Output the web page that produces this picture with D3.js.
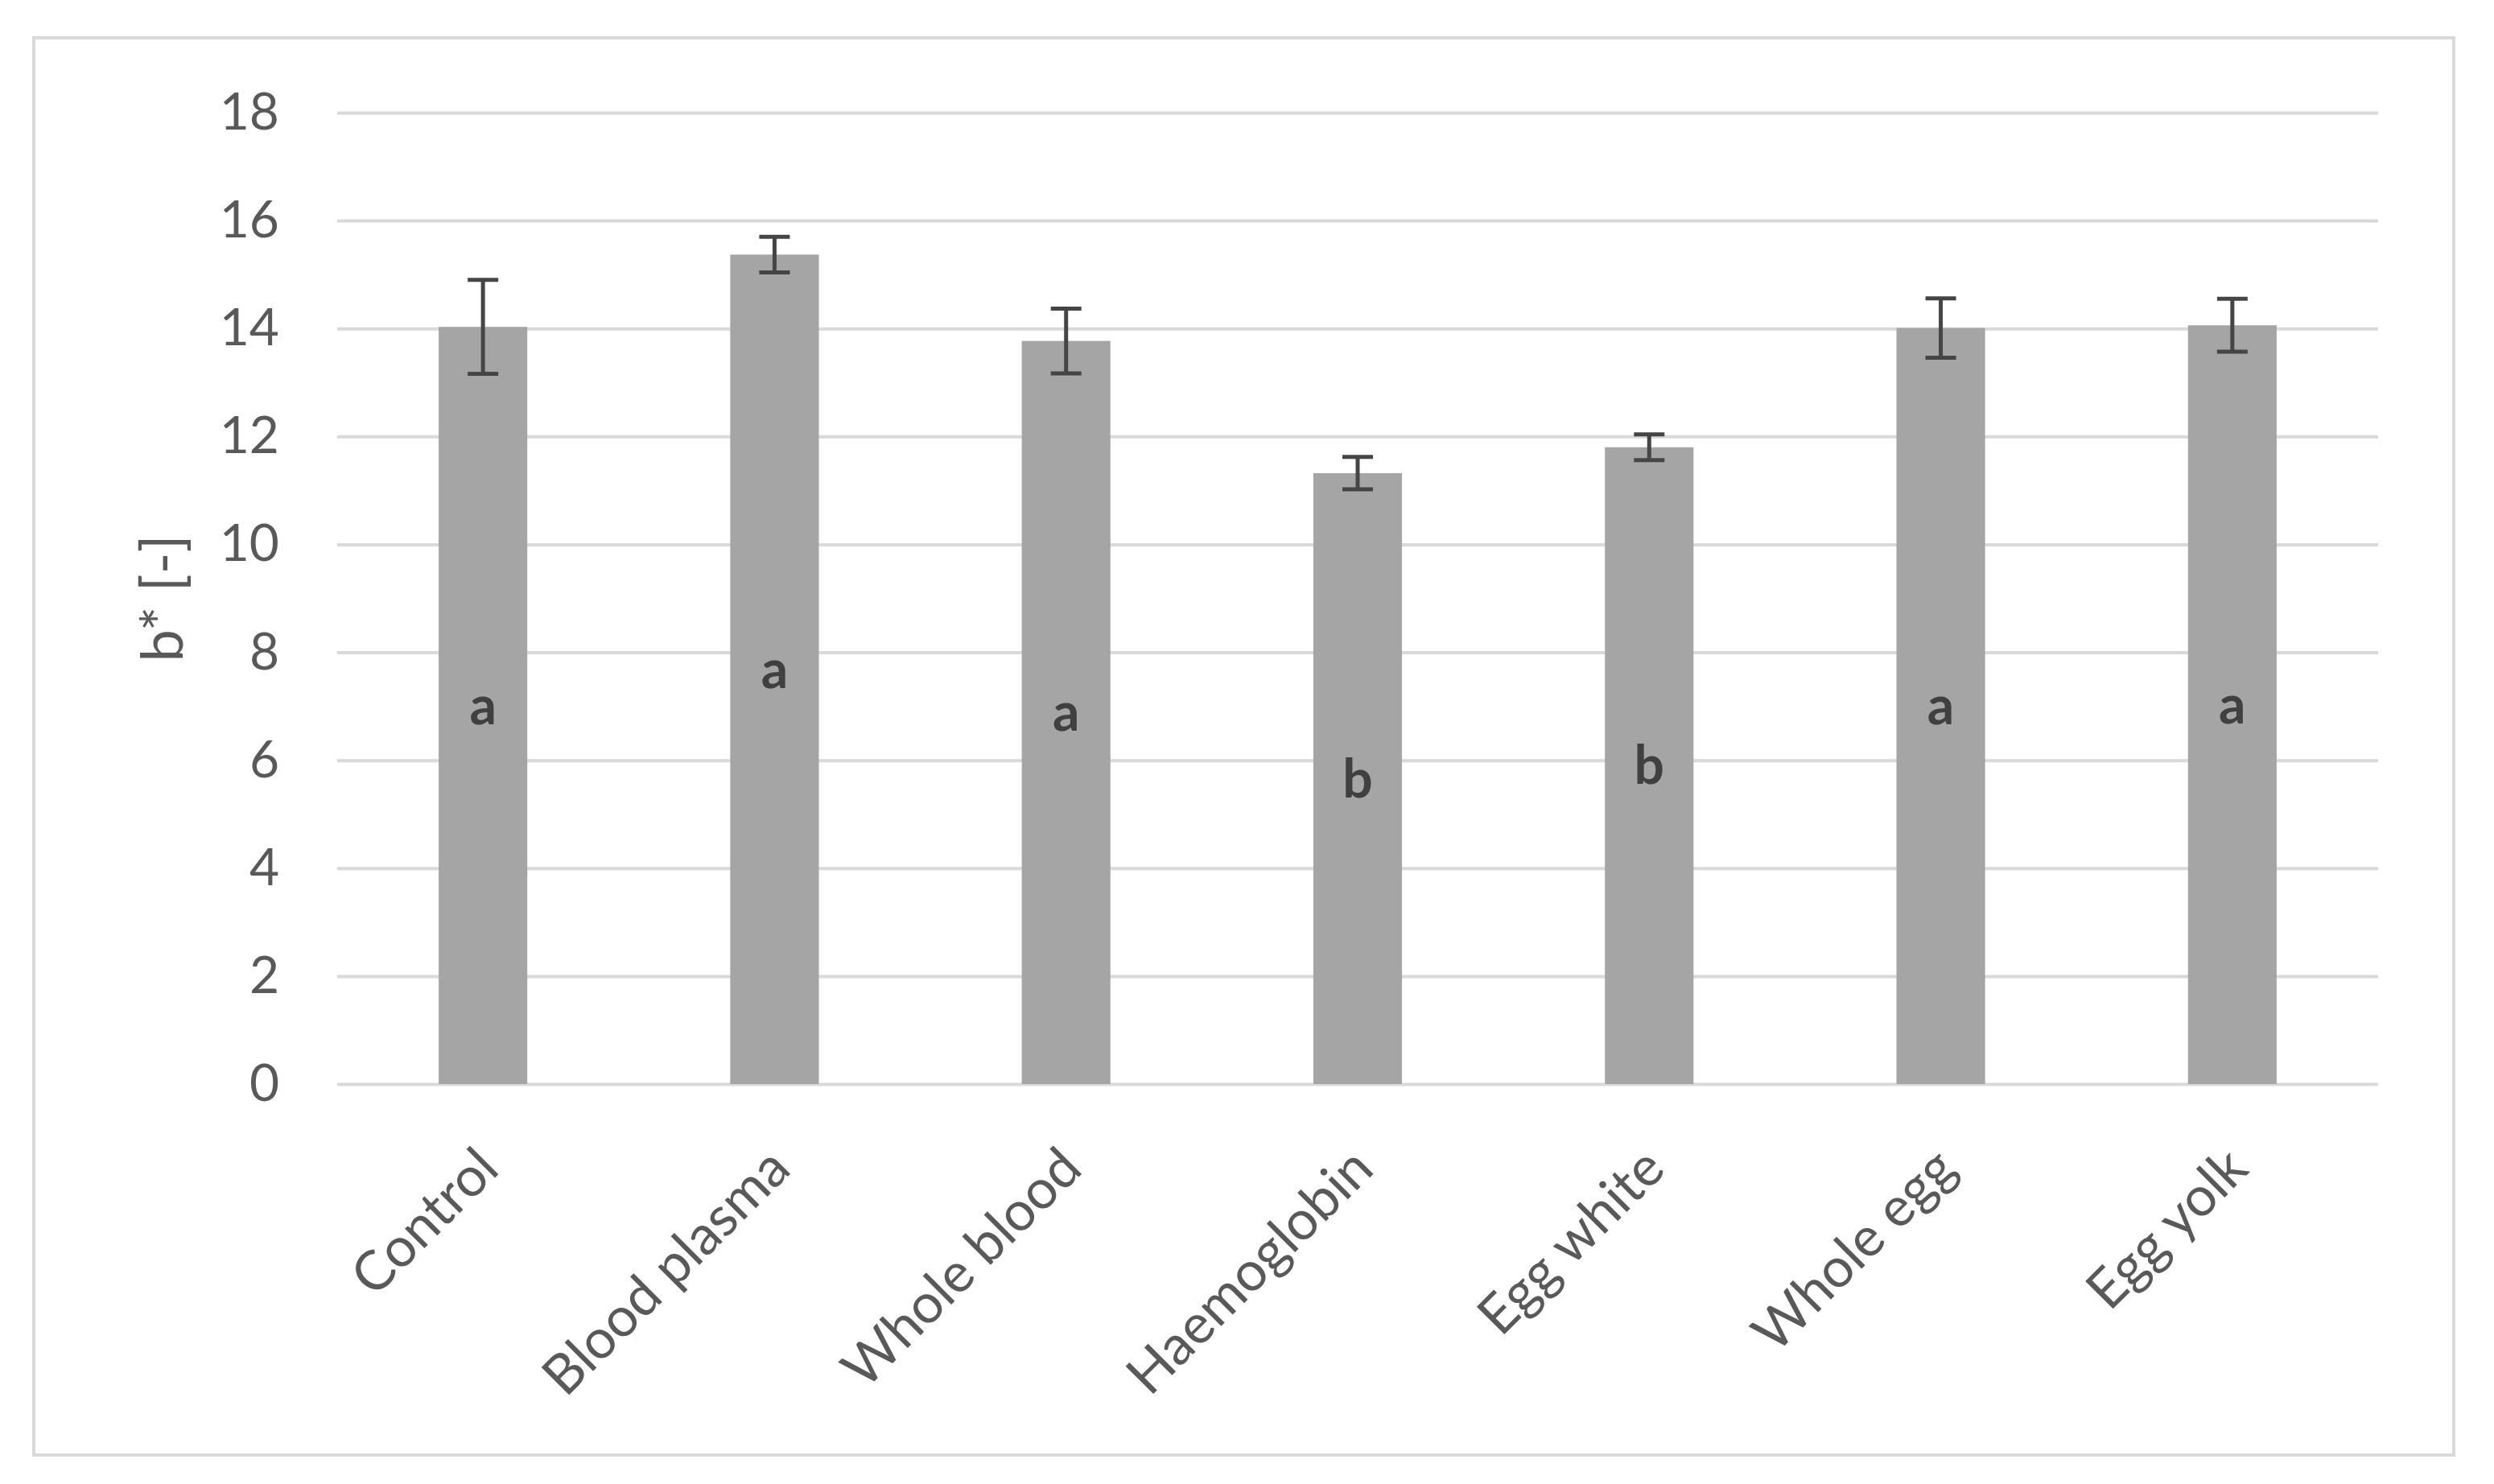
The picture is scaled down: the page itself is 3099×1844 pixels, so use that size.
<!DOCTYPE html>
<html>
<head>
<meta charset="utf-8">
<script src="https://cdn.jsdelivr.net/npm/d3@7"></script>
<style>
  body { margin: 0; background: #fff; }
  text { font-family: Lato, "Open Sans", sans-serif; }
</style>
</head>
<body>
<script>
// chart values
var categories = ["Control", "Blood plasma", "Whole blood", "Haemoglobin", "Egg white", "Whole egg", "Egg yolk"];
var means  = [14.03, 15.37, 13.77, 11.32, 11.80, 14.01, 14.06];
var errors = [0.87, 0.33, 0.60, 0.30, 0.24, 0.55, 0.49];
var groups = ["a", "a", "a", "b", "b", "a", "a"];
var yTicks = [0, 2, 4, 6, 8, 10, 12, 14, 16, 18];
var yTitle = "b* [-]";

var width = 3099, height = 1844;
var plotLeft = 419, plotRight = 2955, plotTop = 140, plotBottom = 1347;

var svg = d3.select("body").append("svg")
  .attr("width", width)
  .attr("height", height);

// outer frame
svg.append("rect")
  .attr("x", 42).attr("y", 47)
  .attr("width", 3007).attr("height", 1761)
  .attr("fill", "#fff")
  .attr("stroke", "#d9d9d9")
  .attr("stroke-width", 4);

var x = d3.scaleBand()
  .domain(categories)
  .range([plotLeft, plotRight])
  .paddingInner(0.696)
  .paddingOuter(0.348);

var y = d3.scaleLinear()
  .domain([0, 18])
  .range([plotBottom, plotTop]);

var rows = categories.map(function(c, i) {
  return {cat: c, v: means[i], e: errors[i], g: groups[i]};
});

// gridlines + tick labels
var yAxis = svg.append("g")
  .attr("transform", "translate(" + plotLeft + ",0)")
  .call(d3.axisLeft(y).tickValues(yTicks).tickSize(-(plotRight - plotLeft)).tickPadding(72));
yAxis.select(".domain").remove();
yAxis.selectAll(".tick line")
  .attr("stroke", "#d9d9d9")
  .attr("stroke-width", 4);
yAxis.selectAll(".tick text")
  .attr("fill", "#595959")
  .attr("font-size", 64);

// bars
svg.append("g").selectAll("rect")
  .data(rows)
  .enter().append("rect")
  .attr("x", function(d){ return x(d.cat); })
  .attr("y", function(d){ return y(d.v); })
  .attr("width", x.bandwidth())
  .attr("height", function(d){ return y(0) - y(d.v); })
  .attr("fill", "#a5a5a5");

// error bars
var capW = 19;
function cx(d){ return x(d.cat) + x.bandwidth()/2; }
var eb = svg.append("g")
  .attr("stroke", "#454545")
  .attr("stroke-width", 5)
  .selectAll("g")
  .data(rows)
  .enter().append("g");
eb.append("line")
  .attr("x1", cx).attr("x2", cx)
  .attr("y1", function(d){ return y(d.v + d.e); })
  .attr("y2", function(d){ return y(d.v - d.e); });
eb.append("line")
  .attr("x1", function(d){ return cx(d) - capW; })
  .attr("x2", function(d){ return cx(d) + capW; })
  .attr("y1", function(d){ return y(d.v + d.e); })
  .attr("y2", function(d){ return y(d.v + d.e); });
eb.append("line")
  .attr("x1", function(d){ return cx(d) - capW; })
  .attr("x2", function(d){ return cx(d) + capW; })
  .attr("y1", function(d){ return y(d.v - d.e); })
  .attr("y2", function(d){ return y(d.v - d.e); });

// significance letters, centred in each bar
svg.append("g").selectAll("text")
  .data(rows)
  .enter().append("text")
  .attr("x", cx)
  .attr("y", function(d){ return y(d.v / 2); })
  .attr("dy", "0.35em")
  .attr("text-anchor", "middle")
  .attr("font-weight", "bold")
  .attr("font-size", 66)
  .attr("fill", "#404040")
  .text(function(d){ return d.g; });

// rotated category labels
svg.append("g").selectAll("text")
  .data(rows)
  .enter().append("text")
  .attr("transform", function(d){
    return "translate(" + (cx(d) - 12) + "," + (plotBottom + 74) + ") rotate(-45)";
  })
  .attr("dy", "0.72em")
  .attr("text-anchor", "end")
  .attr("font-size", 68)
  .attr("fill", "#595959")
  .text(function(d){ return d.cat; });

// y axis title
svg.append("text")
  .attr("transform", "translate(227," + ((plotTop + plotBottom) / 2) + ") rotate(-90)")
  .attr("text-anchor", "middle")
  .attr("font-size", 72)
  .attr("fill", "#595959")
  .text(yTitle);
</script>
</body>
</html>
